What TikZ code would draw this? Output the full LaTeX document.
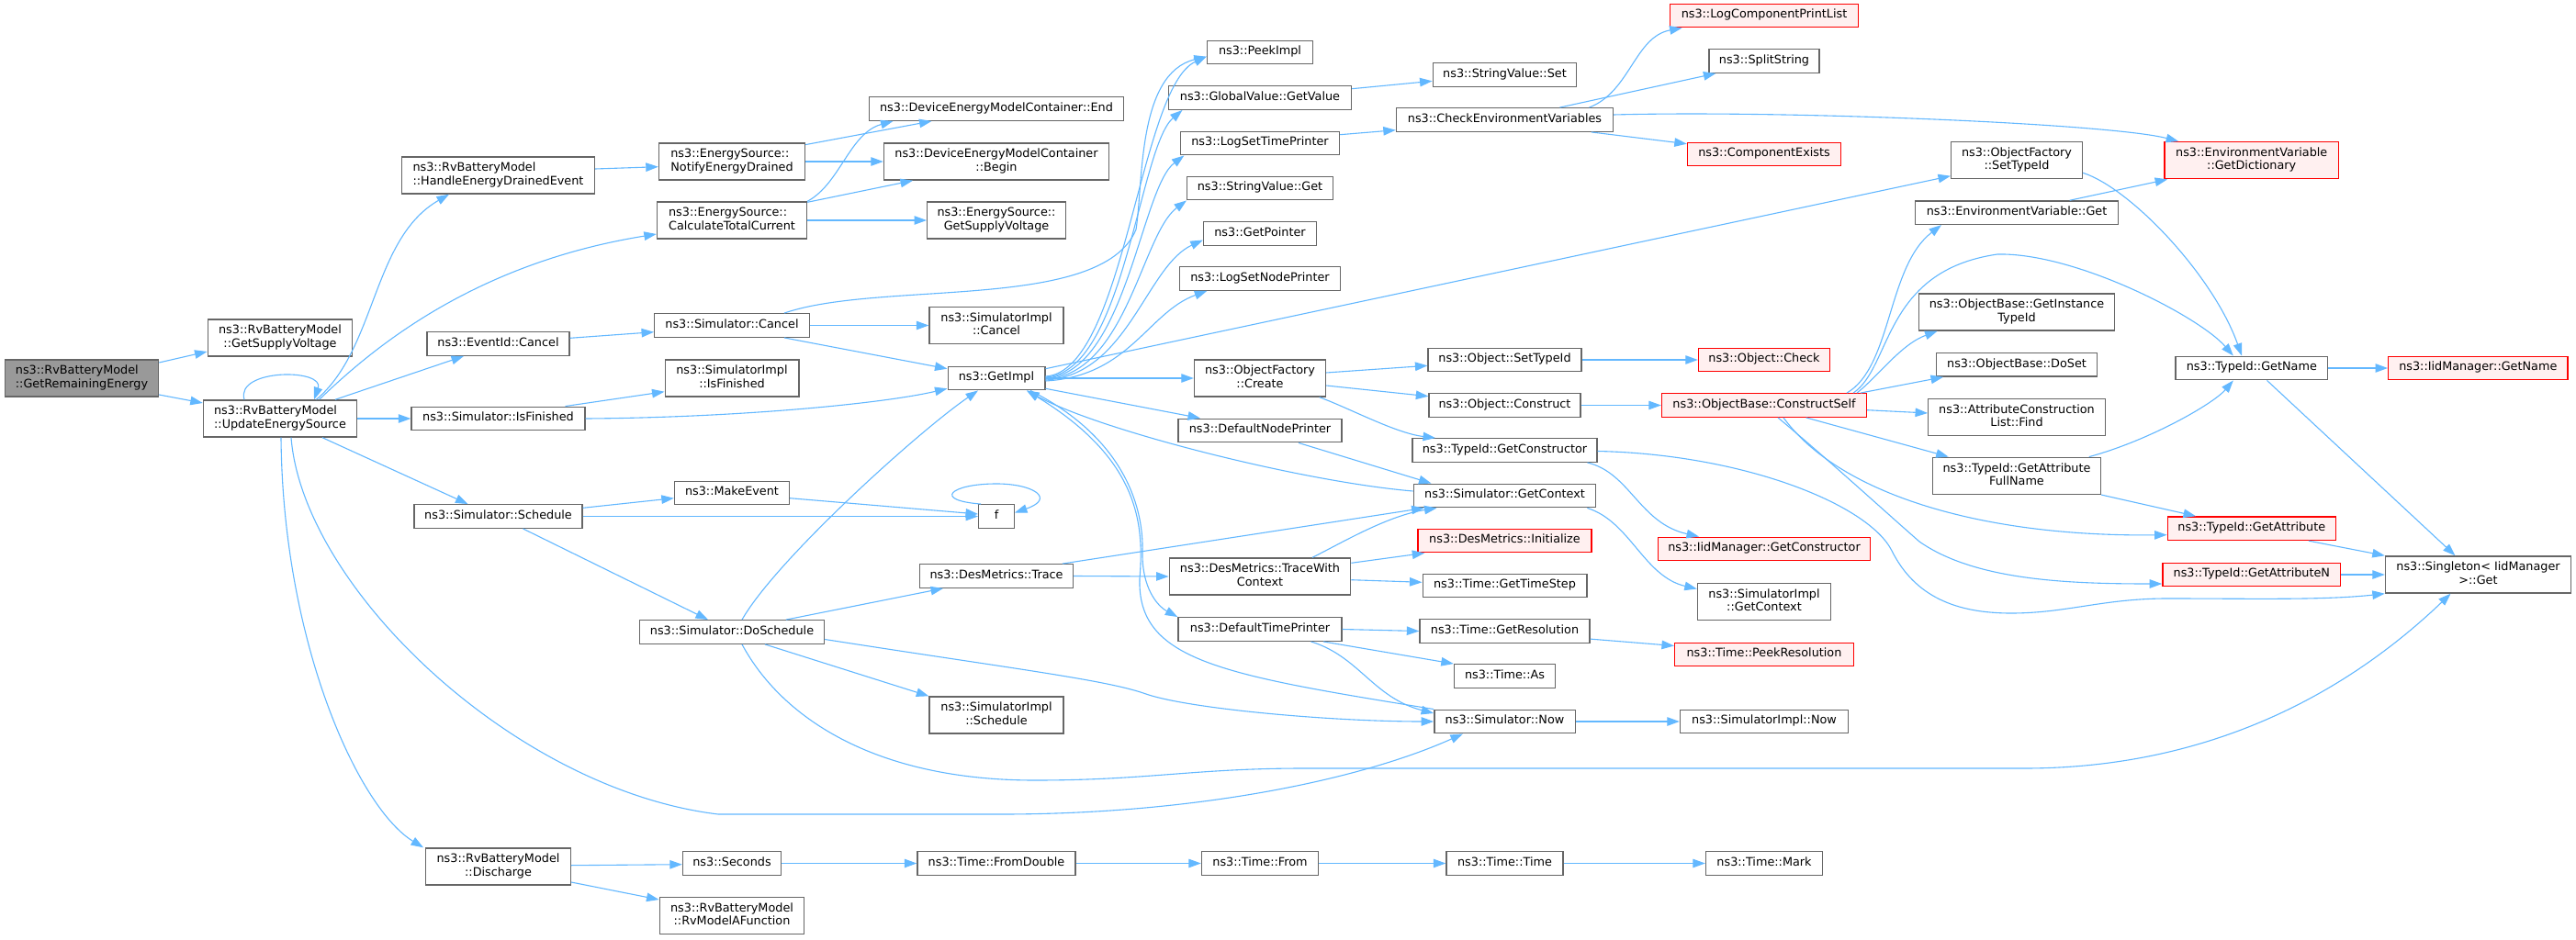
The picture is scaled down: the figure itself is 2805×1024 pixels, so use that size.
\documentclass[tikz,border=0pt]{standalone}
\usepackage{fontspec}
\newfontfamily\gfont{DejaVu Sans}
\usetikzlibrary{arrows.meta,calc}
\definecolor{edgeblue}{HTML}{63B8FF}
\definecolor{boxgray}{HTML}{666666}
\definecolor{redfill}{HTML}{FFF0F0}
\definecolor{rootgray}{HTML}{999999}
\newcommand{\twol}[2]{\begin{tabular}{@{}l@{}}#1\\\multicolumn{1}{@{}c@{}}{#2}\end{tabular}}
\tikzset{
 box/.style={draw=boxgray, line width=1.4pt, fill=white, inner sep=0pt, minimum height=25.5pt,
   font={\gfont\fontsize{12.8pt}{14.3pt}\selectfont}, execute at begin node=\strut},
 redbox/.style={box, draw=red, fill=redfill},
 rootbox/.style={box, fill=rootgray},
 edg/.style={draw=edgeblue, line width=1.1pt, -{Triangle[length=13.5pt,width=9.5pt]}},
}
\begin{document}
\begin{tikzpicture}[x=1pt,y=-1pt]
\fill[white] (0,0) rectangle (2805,1024);
\useasboundingbox (0,0) rectangle (2805,1024);
% ---- nodes ----
\node[rootbox,minimum width=167pt,minimum height=40pt] (gre) at (89,412) {\twol{ns3::RvBatteryModel}{::GetRemainingEnergy}};
\node[box,minimum width=157.5pt,minimum height=40pt] (rsv) at (305,368) {\twol{ns3::RvBatteryModel}{::GetSupplyVoltage}};
\node[box,minimum width=167pt,minimum height=40pt] (ues) at (305,456) {\twol{ns3::RvBatteryModel}{::UpdateEnergySource}};
\node[box,minimum width=210pt,minimum height=40pt] (hede) at (542.5,191) {\twol{ns3::RvBatteryModel}{::HandleEnergyDrainedEvent}};
\node[box,minimum width=155pt] (eic) at (542.5,374.5) {ns3::EventId::Cancel};
\node[box,minimum width=189pt] (sif) at (542.5,456) {ns3::Simulator::IsFinished};
\node[box,minimum width=183pt] (ssch) at (542.5,562.5) {ns3::Simulator::Schedule};
\node[box,minimum width=157.5pt,minimum height=40pt] (dis) at (542.5,944) {\twol{ns3::RvBatteryModel}{::Discharge}};
\node[box,minimum width=159pt,minimum height=40pt] (ned) at (797,176) {\twol{ns3::EnergySource::}{NotifyEnergyDrained}};
\node[box,minimum width=163pt,minimum height=40pt] (ctc) at (797,240) {\twol{ns3::EnergySource::}{CalculateTotalCurrent}};
\node[box,minimum width=168.5pt] (scan) at (797,354.5) {ns3::Simulator::Cancel};
\node[box,minimum width=145.6pt,minimum height=40pt] (sifi) at (797,412) {\twol{ns3::SimulatorImpl}{::IsFinished}};
\node[box,minimum width=125pt] (mke) at (797,537) {ns3::MakeEvent};
\node[box,minimum width=201pt] (dos) at (797,688.5) {ns3::Simulator::DoSchedule};
\node[box,minimum width=107pt] (sec) at (797,940.5) {ns3::Seconds};
\node[box,minimum width=157.5pt,minimum height=40pt] (rvm) at (797,997.3) {\twol{ns3::RvBatteryModel}{::RvModelAFunction}};
\node[box,minimum width=277pt] (dend) at (1085,118.5) {ns3::DeviceEnergyModelContainer::End};
\node[box,minimum width=245pt,minimum height=40pt] (dbeg) at (1085,176) {\twol{ns3::DeviceEnergyModelContainer}{::Begin}};
\node[box,minimum width=150.6pt,minimum height=40pt] (esv) at (1085,240) {\twol{ns3::EnergySource::}{GetSupplyVoltage}};
\node[box,minimum width=146pt,minimum height=40pt] (sic) at (1085,354.5) {\twol{ns3::SimulatorImpl}{::Cancel}};
\node[box,minimum width=105.6pt] (gi) at (1085,412) {ns3::GetImpl};
\node[box,minimum width=38.5pt] (f) at (1085,562.5) {f};
\node[box,minimum width=167pt] (dmt) at (1085,627.5) {ns3::DesMetrics::Trace};
\node[box,minimum width=146pt,minimum height=40pt] (sis) at (1085,779) {\twol{ns3::SimulatorImpl}{::Schedule}};
\node[box,minimum width=172pt] (tfd) at (1085,940.5) {ns3::Time::FromDouble};
\node[box,minimum width=115pt] (peek) at (1372,57) {ns3::PeekImpl};
\node[box,minimum width=199pt] (ggv) at (1372,106.5) {ns3::GlobalValue::GetValue};
\node[box,minimum width=173pt] (lstp) at (1372,156) {ns3::LogSetTimePrinter};
\node[box,minimum width=159pt] (svg) at (1372,205) {ns3::StringValue::Get};
\node[box,minimum width=123pt] (gptr) at (1372,254.5) {ns3::GetPointer};
\node[box,minimum width=175pt] (lsnp) at (1372,303.5) {ns3::LogSetNodePrinter};
\node[box,minimum width=143pt,minimum height=40pt] (ofc) at (1372,412) {\twol{ns3::ObjectFactory}{::Create}};
\node[box,minimum width=178pt] (dnp) at (1372,469) {ns3::DefaultNodePrinter};
\node[box,minimum width=197.5pt,minimum height=40pt] (twc) at (1372,628) {\twol{ns3::DesMetrics::TraceWith}{Context}};
\node[box,minimum width=178pt] (dtp) at (1372,685.5) {ns3::DefaultTimePrinter};
\node[box,minimum width=127pt] (tfr) at (1372,940.5) {ns3::Time::From};
\node[box,minimum width=156.5pt] (svs) at (1638.5,81.5) {ns3::StringValue::Set};
\node[box,minimum width=236pt] (cev) at (1638.5,130.5) {ns3::CheckEnvironmentVariables};
\node[box,minimum width=166.7pt] (ost) at (1638.5,392) {ns3::Object::SetTypeId};
\node[box,minimum width=165pt] (oc) at (1638.5,441.5) {ns3::Object::Construct};
\node[box,minimum width=201pt] (tgc) at (1638.5,490.5) {ns3::TypeId::GetConstructor};
\node[box,minimum width=198.4pt] (sgc) at (1638.5,540) {ns3::Simulator::GetContext};
\node[redbox,minimum width=189pt] (dmi) at (1638.5,589) {ns3::DesMetrics::Initialize};
\node[box,minimum width=178.6pt] (tgts) at (1638.5,638) {ns3::Time::GetTimeStep};
\node[box,minimum width=185pt] (tgr) at (1638.5,687.5) {ns3::Time::GetResolution};
\node[box,minimum width=110pt] (tas) at (1638.5,736.5) {ns3::Time::As};
\node[box,minimum width=153.4pt] (snow) at (1638.5,786) {ns3::Simulator::Now};
\node[box,minimum width=127pt] (ttime) at (1638.5,940.5) {ns3::Time::Time};
\node[redbox,minimum width=205pt] (lcpl) at (1921,17) {ns3::LogComponentPrintList};
\node[box,minimum width=120pt] (split) at (1921,66.5) {ns3::SplitString};
\node[redbox,minimum width=167pt] (cex) at (1921,168) {ns3::ComponentExists};
\node[redbox,minimum width=143pt] (ochk) at (1921,392) {ns3::Object::Check};
\node[redbox,minimum width=223pt] (cs) at (1921,441.5) {ns3::ObjectBase::ConstructSelf};
\node[redbox,minimum width=230.5pt] (igc) at (1921,598) {ns3::IidManager::GetConstructor};
\node[box,minimum width=145pt,minimum height=40pt] (sigc) at (1921,655.5) {\twol{ns3::SimulatorImpl}{::GetContext}};
\node[redbox,minimum width=194.7pt] (tpr) at (1921,713) {ns3::Time::PeekResolution};
\node[box,minimum width=183pt] (sinow) at (1921,786) {ns3::SimulatorImpl::Now};
\node[box,minimum width=127pt] (tmark) at (1921,940.5) {ns3::Time::Mark};
\node[box,minimum width=142.7pt,minimum height=40pt] (ofst) at (2196,174.5) {\twol{ns3::ObjectFactory}{::SetTypeId}};
\node[box,minimum width=220.5pt] (evg) at (2196,231.7) {ns3::EnvironmentVariable::Get};
\node[box,minimum width=213.5pt,minimum height=40pt] (gitid) at (2196,340) {\twol{ns3::ObjectBase::GetInstance}{TypeId}};
\node[box,minimum width=175pt] (doset) at (2196,397.3) {ns3::ObjectBase::DoSet};
\node[box,minimum width=192.5pt,minimum height=40pt] (acl) at (2196,454.3) {\twol{ns3::AttributeConstruction}{List::Find}};
\node[box,minimum width=182.5pt,minimum height=40pt] (gafn) at (2196,518.3) {\twol{ns3::TypeId::GetAttribute}{FullName}};
\node[redbox,minimum width=189.7pt,minimum height=40pt] (evd) at (2451.7,174.7) {\twol{ns3::EnvironmentVariable}{::GetDictionary}};
\node[box,minimum width=165.5pt] (tgn) at (2451.8,401) {ns3::TypeId::GetName};
\node[redbox,minimum width=183pt] (tga) at (2451.8,575.7) {ns3::TypeId::GetAttribute};
\node[redbox,minimum width=193.8pt] (tgan) at (2451.8,626) {ns3::TypeId::GetAttributeN};
\node[redbox,minimum width=195.2pt] (ign) at (2698.3,401) {ns3::IidManager::GetName};
\node[box,minimum width=202pt,minimum height=40pt] (sing) at (2698.5,626) {\twol{ns3::Singleton< IidManager}{>::Get}};
% ---- edges ----
\draw[edg] ($(gre.east)+(0,-17)$) -- ($(rsv.west)+(0,15)$);
\draw[edg] ($(gre.east)+(0,18)$) -- ($(ues.west)+(0,-17)$);
\draw[edg] ($(ues.north)+(-39,0)$) .. controls +(-10,-34) and +(12,-34) .. ($(ues.north)+(37,0)$);
\draw[edg] ($(ues.north)+(39.4,0)$) .. controls (410,380) and (405,260) .. ($(hede.south)+(-53.5,0)$);
\draw[edg] ($(ues.north)+(42.6,0)$) .. controls (400,385) and (510,288) .. ($(ctc.west)+(0,15)$);
\draw[edg] ($(ues.north)+(60,0)$) -- ($(eic.south)+(-37.5,0)$);
\draw[edg] (ues.east) -- (sif.west);
\draw[edg] ($(ues.south)+(46,0)$) -- ($(ssch.north)+(-33,0)$);
\draw[edg] ($(ues.south)+(1,0)$) .. controls (308,700) and (390,880) .. ($(dis.north west)+(-2,0)$);
\draw[edg] ($(ues.south)+(12,0)$) .. controls (330,640) and (560,860) .. (782,887) -- (1090,887) .. controls (1300,887) and (1480,850) .. ($(snow.south)+(-45.6,0)$);
\draw[edg] ($(hede.east)+(0,-7)$) -- ($(ned.west)+(0,5.7)$);
\draw[edg] ($(ned.north east)+(0,2.3)$) -- ($(dend.south)+(-70.5,0)$);
\draw[edg] (ned.east) -- (dbeg.west);
\draw[edg] (ctc.north east) .. controls (915,200) and (925,145) .. ($(dend.south west)+(26.7,0)$);
\draw[edg] ($(ctc.north east)+(0,1)$) -- ($(dbeg.south)+(-91,0)$);
\draw[edg] (ctc.east) -- (esv.west);
\draw[edg] ($(eic.east)+(0,-6.2)$) -- ($(scan.west)+(0,7.2)$);
\draw[edg] ($(scan.north)+(57,0)$) .. controls (960,305) and (1200,340) .. (1237,250) .. controls (1245,200) and (1238,80) .. ($(peek.west)+(0,4.7)$);
\draw[edg] (scan.east) -- (sic.west);
\draw[edg] ($(scan.south)+(57,0)$) -- ($(gi.west)+(0,-10.3)$);
\draw[edg] ($(sif.north)+(73,0)$) -- ($(sifi.west)+(0,14.7)$);
\draw[edg] (sif.east) .. controls (800,455) and (960,440) .. ($(gi.west)+(0,11.3)$);
\draw[edg] ($(ssch.east)+(0,-9.2)$) -- ($(mke.west)+(0,5.7)$);
\draw[edg] (ssch.east) -- (f.west);
\draw[edg] ($(ssch.south)+(27,0)$) -- ($(dos.north)+(-26,0)$);
\draw[edg] ($(mke.east)+(0,5.7)$) -- ($(f.west)+(0,-2.5)$);
\draw[edg] ($(f.north west)+(3,0)$) .. controls (1015,545) and (1035,527) .. (1085,527) .. controls (1125,527) and (1150,543) .. ($(f.east)+(0,-4)$);
% GetImpl bundle
\draw[edg] ($(gi.east)+(0,-2)$) .. controls (1225,405) and (1240,95) .. ($(peek.west)+(0,4.7)$);
\draw[edg] ($(gi.east)+(0,-1)$) .. controls (1225,406) and (1240,160) .. ($(ggv.south)+(-84.5,0)$);
\draw[edg] (gi.east) .. controls (1226,407) and (1242,205) .. ($(lstp.south)+(-82.6,0)$);
\draw[edg] ($(gi.east)+(0,1)$) .. controls (1227,408) and (1243,255) .. ($(svg.south)+(-80,0)$);
\draw[edg] ($(gi.east)+(0,2)$) .. controls (1228,409) and (1248,290) .. ($(gptr.west)+(0,7)$);
\draw[edg] ($(gi.east)+(0,3)$) .. controls (1230,410) and (1250,340) .. ($(lsnp.south)+(-57.7,0)$);
\draw[edg] ($(gi.east)+(0,-10.3)$) -- ($(ofst.west)+(0,17.2)$);
\draw[edg] (gi.east) -- (ofc.west);
\draw[edg] ($(gi.east)+(0,11.3)$) -- ($(dnp.north)+(-65,0)$);
\draw[edg] ($(gi.south)+(37,0)$) .. controls (1230,480) and (1245,560) .. (1244,600) .. controls (1243,640) and (1260,660) .. (dtp.north west);
% DoSchedule
\draw[edg] ($(dos.north)+(11,0)$) .. controls (845,610) and (1000,470) .. ($(gi.south)+(-20,0)$);
\draw[edg] ($(dos.north)+(59,0)$) -- ($(dmt.south)+(-58,0)$);
\draw[edg] ($(dos.south)+(36,0)$) -- (sis.north west);
\draw[edg] ($(dos.east)+(0,8)$) .. controls (1100,728) and (1200,740) .. (1245,755) .. controls (1290,772) and (1450,786) .. (snow.west);
\draw[edg] ($(dos.south)+(11,0)$) .. controls (850,780) and (950,850) .. (1127,850) .. controls (1250,850) and (1300,837) .. (1420,837) -- (2204,837) .. controls (2400,837) and (2550,760) .. ($(sing.south)+(-30,0)$);
% back to GetImpl
\draw[edg] ($(sgc.west)+(0,-5)$) .. controls (1420,525) and (1200,470) .. ($(gi.south)+(33,0)$);
\draw[edg] (snow.north west) .. controls (1330,735) and (1238,720) .. (1241,630) .. controls (1246,570) and (1240,500) .. ($(gi.south)+(33,0)$);
% column 7
\draw[edg] ($(lstp.east)+(0,-9.3)$) -- ($(cev.west)+(0,11.2)$);
\draw[edg] ($(ggv.east)+(0,-9.8)$) -- ($(svs.west)+(0,6.8)$);
\draw[edg] ($(cev.north)+(92,0)$) .. controls (1775,100) and (1780,40) .. ($(lcpl.south)+(-89.4,0)$);
\draw[edg] ($(cev.north)+(60,0)$) -- ($(split.south)+(-52.6,0)$);
\draw[edg] ($(cev.south)+(94.4,0)$) -- ($(cex.west)+(0,-11.3)$);
\draw[edg] ($(cev.east)+(0,-5.5)$) .. controls (1950,120) and (2300,135) .. ($(evd.north west)+(16,0)$);
\draw[edg] ($(ofc.east)+(0,-6)$) -- ($(ost.west)+(0,6.3)$);
\draw[edg] ($(ofc.east)+(0,8)$) -- ($(oc.west)+(0,-9.8)$);
\draw[edg] ($(ofc.south)+(64.7,0)$) .. controls (1470,445) and (1520,472) .. ($(tgc.north)+(-75.5,0)$);
\draw[edg] (ost.east) -- (ochk.west);
\draw[edg] (oc.east) -- (cs.west);
\draw[edg] ($(tgc.south)+(90,0)$) .. controls (1775,515) and (1785,570) .. ($(igc.north)+(-71,0)$);
\draw[edg] ($(tgc.east)+(0,1)$) .. controls (1900,495) and (2035,550) .. (2060,600) .. controls (2085,650) and (2130,668) .. (2190,668) .. controls (2250,668) and (2290,652) .. (2360,652) .. controls (2450,652) and (2530,654) .. (sing.south west);
\draw[edg] ($(sgc.south east)+(-10,0)$) .. controls (1775,568) and (1790,628) .. ($(sigc.west)+(0,-14)$);
% ConstructSelf
\draw[edg] ($(cs.north)+(90,0)$) .. controls (2060,400) and (2055,290) .. ($(evg.south)+(-82,0)$);
\draw[edg] ($(cs.north)+(97,0)$) .. controls (2060,400) and (2050,295) .. (2175,277) .. controls (2260,275) and (2395,345) .. ($(tgn.north)+(-20,0)$);
\draw[edg] ($(cs.north)+(101,0)$) .. controls (2045,410) and (2070,375) .. ($(gitid.south west)+(21,0)$);
\draw[edg] ($(cs.north)+(105,0)$) -- ($(doset.south)+(-80,0)$);
\draw[edg] ($(cs.east)+(0,5.2)$) -- ($(acl.west)+(0,-4.3)$);
\draw[edg] ($(cs.south)+(45.7,0)$) -- ($(gafn.north)+(-74.3,0)$);
\draw[edg] ($(cs.south)+(21,0)$) .. controls (2000,535) and (2150,585) .. ($(tga.west)+(0,7)$);
\draw[edg] ($(cs.south)+(15,0)$) .. controls (1990,500) and (2050,555) .. (2090,590) .. controls (2150,632) and (2250,636) .. ($(tgan.west)+(0,10)$);
\draw[edg] ($(gafn.north)+(78.8,0)$) .. controls (2340,480) and (2410,440) .. ($(tgn.south)+(-20,0)$);
\draw[edg] (gafn.south east) -- ($(tga.north)+(-60.8,0)$);
\draw[edg] ($(ofst.east)+(0,13.8)$) .. controls (2320,205) and (2410,300) .. ($(tgn.north)+(-10.8,0)$);
\draw[edg] ($(evg.north)+(57.7,0)$) -- ($(evd.south west)+(4,0)$);
\draw[edg] (tgn.east) -- (ign.west);
\draw[edg] ($(tgn.south)+(16.7,0)$) -- ($(sing.north)+(-25,0)$);
\draw[edg] ($(tga.south)+(62,0)$) -- (sing.north west);
\draw[edg] (tgan.east) -- (sing.west);
% printers / metrics / time
\draw[edg] ($(dnp.south)+(42,0)$) -- ($(sgc.north)+(-80,0)$);
\draw[edg] ($(dmt.north)+(72,0)$) -- ($(sgc.south west)+(12,0)$);
\draw[edg] (dmt.east) -- (twc.west);
\draw[edg] ($(twc.north)+(57,0)$) .. controls (1460,592) and (1510,562) .. ($(sgc.south)+(-74,0)$);
\draw[edg] ($(twc.east)+(0,-14.7)$) -- ($(dmi.south west)+(8,0)$);
\draw[edg] ($(twc.east)+(0,3.7)$) -- ($(tgts.west)+(0,-3.7)$);
\draw[edg] (dtp.east) -- (tgr.west);
\draw[edg] ($(dtp.south)+(69,0)$) -- (tas.north west);
\draw[edg] ($(dtp.south)+(55.5,0)$) .. controls (1480,715) and (1495,760) .. ($(snow.west)+(0,-9)$);
\draw[edg] ($(tgr.east)+(0,8.6)$) -- ($(tpr.west)+(0,-9.5)$);
\draw[edg] (snow.east) -- (sinow.west);
\draw[edg] ($(dis.east)+(0,-1.3)$) -- ($(sec.west)+(0,1.2)$);
\draw[edg] ($(dis.east)+(0,17)$) -- ($(rvm.west)+(0,-17.3)$);
\draw[edg] (sec.east) -- (tfd.west);
\draw[edg] (tfd.east) -- (tfr.west);
\draw[edg] (tfr.east) -- (ttime.west);
\draw[edg] (ttime.east) -- (tmark.west);
\end{tikzpicture}
\end{document}
